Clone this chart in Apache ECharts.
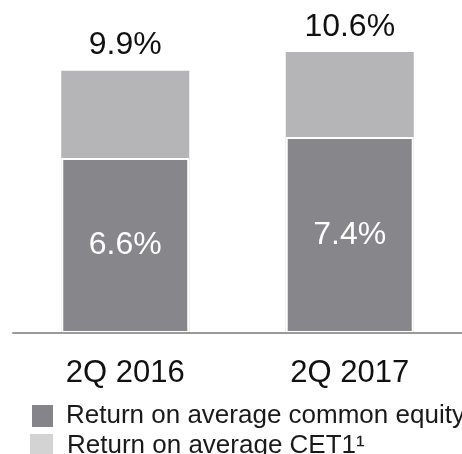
<!DOCTYPE html>
<html>
<head>
<meta charset="utf-8">
<script src="https://cdn.jsdelivr.net/npm/echarts@6/dist/echarts.min.js"></script>
<style>
html,body{margin:0;padding:0;background:#fff;}
#chart{width:462px;height:454px;}
</style>
</head>
<body>
<div id="chart"></div>
<script>
// 数据
var categories = ['2Q 2016', '2Q 2017'];
var roceValues = [6.6, 7.4];      // Return on average common equity
var cet1Values = [9.9, 10.6];     // Return on average CET1
var seriesNames = ['Return on average common equity', 'Return on average CET1\u00b9'];

var font = '"Liberation Sans", Arial, sans-serif';

var chart = echarts.init(document.getElementById('chart'));

// 图例：每行一个
function legendRow(name, color, top, padLeft) {
    return {
        orient: 'horizontal',
        left: 25,
        top: top,
        itemWidth: 23,
        itemHeight: 24,
        selectedMode: false,
        textStyle: {
            fontFamily: font,
            fontSize: 26,
            color: '#1a1a1a',
            padding: [0, 0, 0, padLeft]
        },
        data: [{name: name, icon: 'rect', itemStyle: {color: color}}]
    };
}

option = {
    animation: false,
    grid: {
        left: 13,
        width: 455,
        top: 15,
        height: 318
    },
    legend: [
        legendRow(seriesNames[0], '#858488', 398, 7),
        legendRow(seriesNames[1], '#d3d3d3', 428, 9)
    ],
    xAxis: {
        type: 'category',
        data: categories,
        z: 10,
        axisLine: {lineStyle: {color: '#9a9a9a', width: 2}},
        axisTick: {show: false},
        axisLabel: {
            margin: 25,
            fontFamily: font,
            fontSize: 31,
            color: '#111'
        }
    },
    yAxis: {
        type: 'value',
        min: 0,
        max: 12,
        show: false,
        splitLine: {show: false}
    },
    series: [
        {
            name: seriesNames[1],
            type: 'bar',
            barWidth: 128,
            barGap: '-100%',
            data: cet1Values,
            itemStyle: {color: '#b5b5b7'},
            label: {
                show: true,
                position: 'top',
                distance: 9,
                formatter: '{c}%',
                fontFamily: font,
                fontSize: 32,
                color: '#111'
            }
        },
        {
            name: seriesNames[0],
            type: 'bar',
            barWidth: 128,
            barGap: '-100%',
            data: roceValues,
            itemStyle: {color: '#87868a', borderColor: '#fff', borderWidth: 2},
            label: {
                show: true,
                position: 'inside',
                formatter: '{c}%',
                fontFamily: font,
                fontSize: 32,
                color: '#fff'
            }
        }
    ]
};

chart.setOption(option);
</script>
</body>
</html>
